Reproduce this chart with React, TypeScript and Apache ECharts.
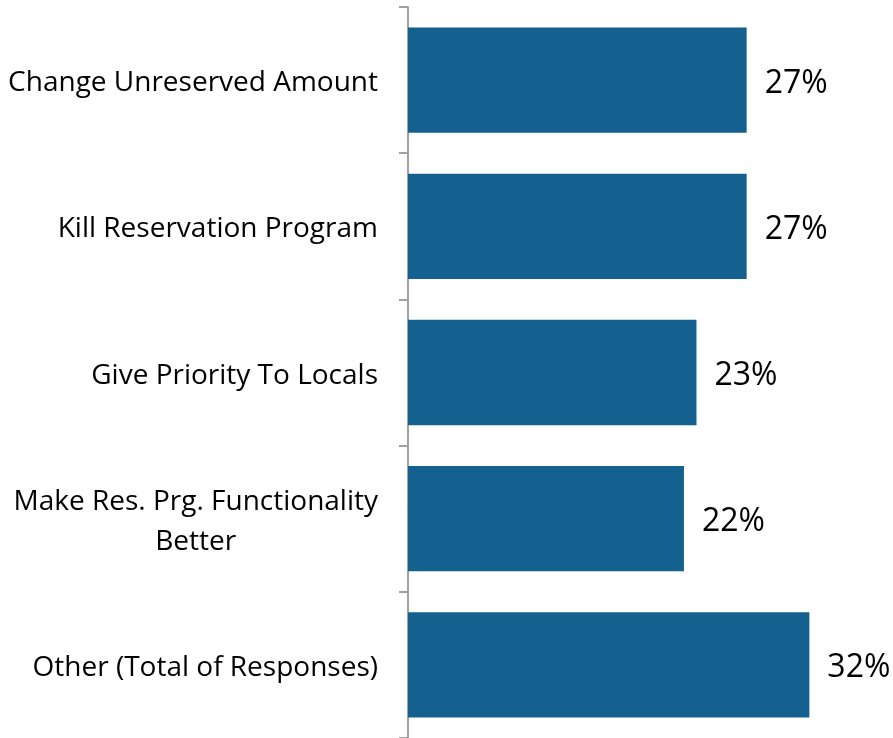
import React, { useEffect, useRef } from "react";
import * as echarts from "echarts";

const categories = [
  "Change Unreserved Amount",
  "Kill Reservation Program",
  "Give Priority To Locals",
  "Make Res. Prg. Functionality\nBetter",
  "Other (Total of Responses)",
];
const values = [27, 27, 23, 22, 32];

const FONT = "'Open Sans', sans-serif";
const CAT_SIZE = 28;

function measure(text: string, size: number) {
  const c = document.createElement("canvas").getContext("2d");
  if (!c) return text.length * size * 0.55;
  c.font = `${size}px 'Open Sans'`;
  return c.measureText(text).width;
}

export default function App() {
  const ref = useRef<HTMLDivElement>(null);
  useEffect(() => {
    if (!ref.current) return;
    const chart = echarts.init(ref.current, undefined, { renderer: "svg" });
    const option = {
      animation: false,
      grid: { left: 408, top: 7, bottom: 0, right: 46 },
      xAxis: {
        type: "value",
        min: 0,
        max: 35,
        show: false,
      },
      yAxis: {
        type: "category",
        data: categories,
        inverse: true,
        axisLine: { show: true, lineStyle: { color: "#a0a0a0", width: 2 } },
        axisTick: { show: true, length: 9, lineStyle: { color: "#a0a0a0", width: 2 } },
        axisLabel: {
          margin: 30,
          fontFamily: FONT,
          fontSize: CAT_SIZE,
          color: "#000",
          lineHeight: 40,
          formatter: (v: string) => {
            if (v.indexOf("\n") >= 0) {
              return v
                .split("\n")
                .map((l) => `{c|${l}}`)
                .join("\n");
            }
            return v;
          },
          rich: {
            c: {
              fontFamily: FONT,
              fontSize: CAT_SIZE,
              color: "#000",
              lineHeight: 40,
              align: "center",
              width: measure("Make Res. Prg. Functionality", CAT_SIZE),
            },
          },
        },
      },
      series: [
        {
          type: "bar",
          data: values,
          barCategoryGap: "28%",
          itemStyle: { color: "#14608f" },
          label: {
            show: true,
            position: "right",
            distance: 18,
            formatter: "{c}%",
            fontFamily: FONT,
            fontSize: 32,
            color: "#000",
          },
        },
      ],
    };
    chart.setOption(option);
    return () => chart.dispose();
  }, []);
  return (
    <div
      ref={ref}
      style={{ position: "fixed", left: 0, top: 0, width: 893, height: 738 }}
    />
  );
}
